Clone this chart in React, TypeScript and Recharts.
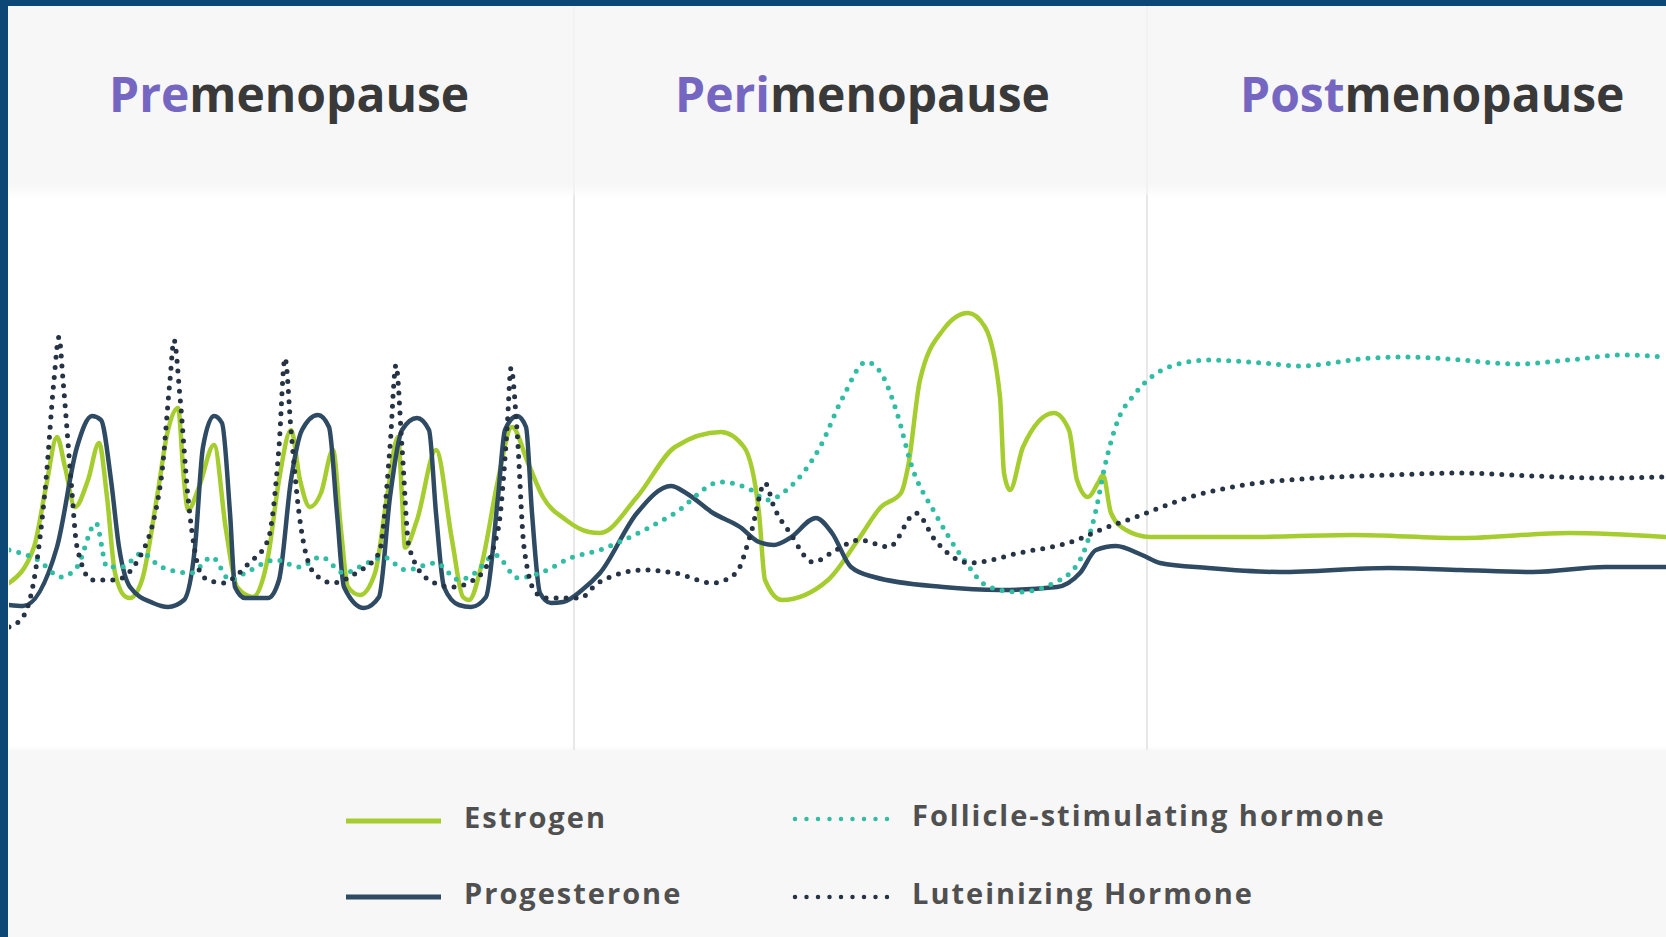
import React from 'react';
import { LineChart, Line, XAxis, YAxis, ReferenceLine } from 'recharts';

// time axis (arbitrary units), hormone level (arbitrary units)
const phaseNames = ['Pre', 'Peri', 'Post'];
const phaseBoundaries = [56.5, 113.8];

const estrogen: [number, number][] = [
  [0, 33.4], [2.5, 40.6], [3.7, 52.6], [4.8, 62.6], [5.6, 56.6], [6.6, 48.6], [7.9, 54], [9, 61.4], [9.8, 50.6],
  [10.6, 35.4], [11.7, 30.6], [12.1, 30.4], [13.3, 34], [14.8, 50.6], [15.9, 64], [16.9, 68.4], [17.5, 54],
  [17.9, 48], [19, 52.6], [20.5, 61], [21.7, 44], [22.8, 32.6], [24.4, 30.6], [25.9, 38.6], [27, 54], [28.2, 64],
  [29.1, 54], [30.1, 48.6], [31.2, 51.4], [32.4, 60], [33.2, 44], [33.9, 32.6], [35.1, 31], [36.6, 35.4],
  [37.8, 50.6], [38.9, 62.6], [39.3, 50.6], [39.6, 40.5], [40.8, 46], [42.7, 60], [44.3, 42], [45.4, 30.6], [46, 30],
  [47.3, 37.4], [48.9, 54], [50.3, 64.6], [51.9, 57.4], [53.4, 50.6], [55.7, 46], [58, 43.6], [59.1, 43.4],
  [62.8, 50.6], [66.6, 60.6], [71.2, 63.6], [73.5, 60.6], [75, 47.4], [75.6, 34], [77.3, 30], [81.9, 34],
  [84.9, 42], [87.2, 48.6], [89.2, 51.4], [89.9, 56.6], [91.1, 74], [93.4, 84], [95.9, 87.4], [97.6, 84.6],
  [99.1, 70.6], [99.5, 55.4], [100.1, 52], [101.4, 60.6], [104.5, 67.4], [106, 64], [106.8, 54], [107.9, 50.6],
  [108.9, 53.4], [109.4, 55], [110.2, 47.4], [111.7, 44], [114.1, 42.6], [123.5, 42.6], [134.4, 43],
  [145.2, 42.4], [156, 43.4], [165.7, 42.6],
];

const progesterone: [number, number][] = [
  [0, 29], [1.4, 28.8], [4.8, 40.6], [6.8, 60.6], [8.3, 66.8], [9.2, 66], [10.2, 54], [11, 40.6], [12.1, 32.6],
  [14.4, 29.4], [15.9, 28.6], [17.5, 30], [18.6, 40.6], [19.4, 60.6], [20.5, 66.8], [21.3, 65.4], [22.1, 47.4],
  [22.6, 32.6], [23.6, 30.4], [25.9, 30.4], [27, 34], [28.2, 54], [29.3, 64], [30.9, 67], [32, 64.6], [32.8, 47.4],
  [33.5, 32.6], [35.5, 28.4], [37, 30.6], [38.1, 50.6], [39.3, 64], [40.8, 66.4], [42, 64], [42.7, 47.4],
  [43.5, 32.6], [45, 29], [46.2, 28.6], [47.7, 30.6], [48.9, 50.6], [49.6, 64], [50.8, 66.8], [51.7, 64.6],
  [52.3, 47.4], [53.1, 31.4], [54.2, 29.4], [55.4, 29.6], [57.3, 32], [59.1, 35.4], [62.8, 47.4], [66.2, 52.8],
  [67.7, 51.4], [70.4, 47.4], [73.1, 44.6], [75, 41.6], [76.5, 41], [78.1, 42.4], [80.7, 46.4], [82.3, 43.4],
  [84.2, 36.6], [86.5, 34.6], [93.4, 32.6], [99.1, 32], [104.8, 32.6], [107.1, 35.4], [108.7, 40], [110.7, 40.8],
  [113.3, 39], [115.1, 37.4], [119.9, 36.4], [127.1, 35.6], [138, 36.4], [145.2, 36], [152.4, 35.6],
  [159.6, 36.6], [165.7, 36.6],
];

const fsh: [number, number][] = [
  [0, 40], [2.9, 38], [5.2, 34.6], [6.8, 36.6], [8.7, 45.4], [9.8, 36.6], [11.3, 36.6], [13.3, 39.4], [15.2, 36.6],
  [18.2, 35.4], [20.3, 38.6], [22.1, 34], [23.6, 35.4], [26.7, 38], [29, 36.6], [31.2, 38.6], [33.5, 35.4],
  [35.8, 37.4], [37.4, 38.6], [39.7, 36], [42.7, 37.4], [45, 34], [46.6, 35.4], [48.6, 39], [50.9, 34.4],
  [53.1, 35.4], [56.4, 38.6], [59.1, 40], [60.8, 41.4], [66.6, 47.4], [71.2, 53.6], [74.2, 52], [75.8, 50],
  [78.1, 52.6], [81.1, 60.6], [83.4, 70.6], [85.7, 77.6], [87.2, 75.4], [88.8, 67.4], [90.3, 56.6], [92.6, 47.4],
  [95.3, 38.6], [98, 32.6], [101, 31.6], [104.5, 33.4], [107.1, 38], [108.7, 48], [109.5, 56], [110.9, 66],
  [112.5, 71], [114.1, 74.4], [116.3, 76.8], [119.9, 78], [125.3, 77.4], [129, 76.8], [136.2, 78.4],
  [139.8, 78.6], [145.2, 78], [150.6, 77.2], [156, 78], [161.4, 79], [165.7, 78.6],
];

const lh: [number, number][] = [
  [0, 24.6], [1.4, 26.6], [2.5, 34], [3.7, 54], [4.5, 74], [5, 82.6], [5.4, 74], [6.2, 54], [6.8, 40.6], [8.3, 34],
  [10.6, 34], [12.9, 38], [15.2, 54], [16.1, 74], [16.5, 82], [17.1, 70.6], [17.9, 50.6], [19.4, 34.6],
  [21.3, 33.4], [24, 37.4], [25.9, 42], [27, 60.6], [27.6, 78.4], [28.2, 64], [29, 47.4], [30.5, 35.4],
  [32.4, 33.4], [34.7, 35.4], [37, 39.4], [38.1, 60.6], [38.7, 77], [39.3, 60.6], [40, 40.6], [42, 34],
  [44.3, 32.6], [46.9, 34.6], [48.9, 44], [49.8, 64], [50.2, 76.4], [50.8, 64], [51.5, 40.6], [52.7, 31.4],
  [53.8, 30.4], [57.1, 30.4], [58.9, 33.4], [63.5, 36], [66.6, 35.4], [70.4, 33.4], [72.7, 35.4], [74.2, 43.4],
  [75.6, 53.4], [76.5, 48.6], [78.1, 43.4], [80.4, 37.6], [82.7, 40], [85, 42], [88, 40.6], [90.7, 47.4],
  [92.6, 42], [94.9, 38], [96.1, 37.4], [101, 39.4], [106.8, 42], [109.1, 44], [112.7, 46.6], [118.1, 50.6],
  [123.5, 53], [130.8, 54.4], [138, 55], [145.2, 55.4], [152.4, 54.8], [159.6, 54.4], [165.7, 54.6],
];

const toRows = (pts: [number, number][]) => pts.map(([t, v]) => ({ t, v }));

const series = [
  { name: 'Estrogen', data: estrogen, color: '#a6cd2f', dotted: false },
  { name: 'Progesterone', data: progesterone, color: '#2f4a63', dotted: false },
  { name: 'Follicle-stimulating hormone', data: fsh, color: '#30bda2', dotted: true },
  { name: 'Luteinizing Hormone', data: lh, color: '#263344', dotted: true },
];

const FONT = '"Open Sans", "Noto Sans", sans-serif';

export default function App() {
  const titleX = [109, 675, 1240];
  const legendPos = [
    { x: 346, y: 821 },
    { x: 346, y: 897 },
    { x: 795, y: 819 },
    { x: 795, y: 897 },
  ];
  return (
    <div style={{ position: 'absolute', left: 0, top: 0, width: 1666, height: 937, overflow: 'hidden', background: '#0c4776' }}>
      <div
        style={{
          position: 'absolute', left: 8, top: 6, width: 1658, height: 931,
          background: 'linear-gradient(to bottom, #f7f7f7 0px, #f7f7f7 178px, #ffffff 192px, #ffffff 740px, #f7f7f7 745px, #f7f7f7 931px)',
        }}
      />
      {phaseBoundaries.map((b, i) => (
        <div key={i} style={{ position: 'absolute', left: 9 + b * 10 - 1, top: 6, width: 2, height: 189, background: '#f2f2f2' }} />
      ))}
      <div style={{ position: 'absolute', left: 9, top: 195 }}>
        <LineChart width={1657} height={555} margin={{ top: 0, right: 0, bottom: 0, left: 0 }}>
          <XAxis type="number" dataKey="t" domain={[0, 165.7]} hide allowDataOverflow />
          <YAxis type="number" domain={[0, 111]} hide allowDataOverflow />
          {phaseBoundaries.map((b, i) => (
            <ReferenceLine key={i} x={b} stroke="#e8e8e8" strokeWidth={2} ifOverflow="visible" />
          ))}
          {series.map((s) => (
            <Line
              key={s.name}
              data={toRows(s.data)}
              dataKey="v"
              name={s.name}
              type="monotone"
              stroke={s.color}
              strokeWidth={s.dotted ? 5 : 4.5}
              strokeDasharray={s.dotted ? '0 10' : undefined}
              strokeLinecap="round"
              strokeLinejoin="round"
              dot={false}
              activeDot={false}
              isAnimationActive={false}
            />
          ))}
        </LineChart>
      </div>
      <svg width={1666} height={937} style={{ position: 'absolute', left: 0, top: 0, pointerEvents: 'none' }}>
        {phaseNames.map((p, i) => (
          <text key={p} x={titleX[i]} y={112} fontFamily={FONT} fontWeight={700} fontSize={48}>
            <tspan fill="#7566c1">{p}</tspan>
            <tspan fill="#393939">menopause</tspan>
          </text>
        ))}
        {series.map((s, i) => {
          const { x, y } = legendPos[i];
          return (
            <g key={s.name}>
              {s.dotted ? (
                <line x1={x} y1={y} x2={x + 93} y2={y} stroke={s.color} strokeWidth={4.5} strokeDasharray="0 11.5" strokeLinecap="round" />
              ) : (
                <line x1={x} y1={y} x2={x + 95} y2={y} stroke={s.color} strokeWidth={5} />
              )}
              <text x={x + (s.dotted ? 117 : 118)} y={y + 7} fontFamily={FONT} fontWeight={700} fontSize={29} letterSpacing={2} fill="#505050">
                {s.name}
              </text>
            </g>
          );
        })}
      </svg>
    </div>
  );
}
